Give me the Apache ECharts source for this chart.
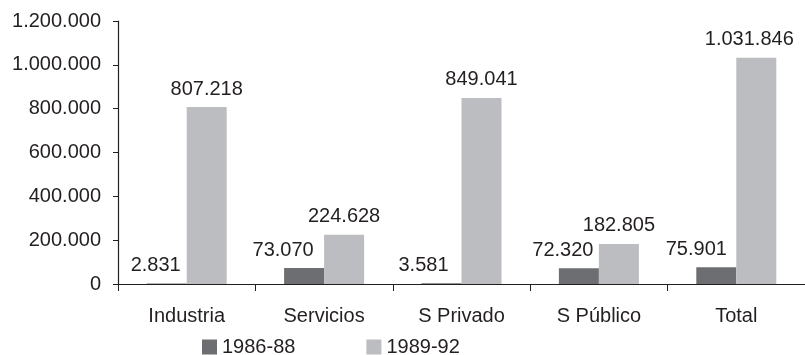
<!DOCTYPE html>
<html>
<head>
<meta charset="utf-8">
<script src="https://cdn.jsdelivr.net/npm/echarts@6/dist/echarts.min.js"></script>
<style>
  html, body { margin: 0; padding: 0; background: #ffffff; }
  #chart { width: 805px; height: 355px; }
</style>
</head>
<body>
<div id="chart"></div>
<script>
// Employment change by sector, two periods
const categories = ['Industria', 'Servicios', 'S Privado', 'S Público', 'Total'];
const seriesNames = ['1986-88', '1989-92'];
const values8688 = [2831, 73070, 3581, 72320, 75901];
const values8992 = [807218, 224628, 849041, 182805, 1031846];
const yTicks = [0, 200000, 400000, 600000, 800000, 1000000, 1200000];

// Horizontal nudges for the value labels (px), keeps them clear of neighbours
const shift8688 = [-11, -21, -18, -16, -20];
const shift8992 = [0, 0, 0, 0, -7];

const FONT = '"Liberation Sans", Arial, sans-serif';
const SIZE = 20;
const INK = '#231f20';

// Spanish-style thousands separator
function fmt(v) {
  return String(Math.round(v)).replace(/\B(?=(\d{3})+(?!\d))/g, '.');
}

function withLabels(values, shifts) {
  return values.map((v, i) => ({
    value: v,
    label: { offset: [shifts[i], 0] }
  }));
}

const chart = echarts.init(document.getElementById('chart'), null, { renderer: 'canvas' });

const labelStyle = {
  show: true,
  position: 'top',
  distance: 8,
  fontFamily: FONT,
  fontSize: SIZE,
  color: INK,
  formatter: p => fmt(p.value)
};

chart.setOption({
  animation: false,
  backgroundColor: '#ffffff',
  textStyle: { fontFamily: FONT, color: INK },
  grid: { left: 118, right: -7, top: 21, bottom: 71, containLabel: false },
  legend: {
    data: seriesNames,
    left: 202,
    top: 337,
    padding: 0,
    itemWidth: 15,
    itemHeight: 15,
    itemGap: 71,
    icon: 'rect',
    textStyle: { fontFamily: FONT, fontSize: SIZE, color: INK, lineHeight: 20, padding: [0, 0, 0, 0] }
  },
  xAxis: {
    type: 'category',
    data: categories,
    axisLine: { lineStyle: { color: INK, width: 1.2 } },
    axisTick: { show: true, length: 7, lineStyle: { color: INK } },
    axisLabel: { fontFamily: FONT, fontSize: SIZE, color: INK, margin: 22 },
    splitLine: { show: false }
  },
  yAxis: {
    type: 'value',
    min: yTicks[0],
    max: yTicks[yTicks.length - 1],
    interval: yTicks[1] - yTicks[0],
    axisLine: { show: true, lineStyle: { color: INK, width: 1.2 } },
    axisTick: { show: true, length: 5, lineStyle: { color: INK } },
    axisLabel: { fontFamily: FONT, fontSize: SIZE, color: INK, margin: 17, formatter: v => fmt(v) },
    splitLine: { show: false }
  },
  series: [
    {
      name: seriesNames[0],
      type: 'bar',
      data: withLabels(values8688, shift8688),
      barWidth: 40,
      barGap: '0%',
      itemStyle: { color: '#6d6e71' },
      label: labelStyle
    },
    {
      name: seriesNames[1],
      type: 'bar',
      data: withLabels(values8992, shift8992),
      barWidth: 40,
      itemStyle: { color: '#bcbdc0' },
      label: labelStyle
    }
  ]
});
</script>
</body>
</html>
